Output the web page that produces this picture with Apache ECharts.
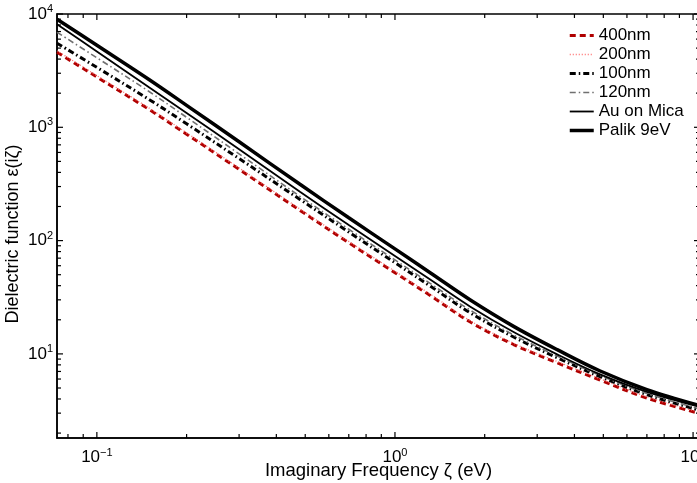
<!DOCTYPE html>
<html><head><meta charset="utf-8">
<script src="https://cdn.jsdelivr.net/npm/echarts@6/dist/echarts.min.js"></script>
<style>html,body{margin:0;padding:0;background:#fff}#c{width:697px;height:483px}</style>
</head><body><div id="c"></div>
<script>
// Imaginary frequency zeta (eV)
const freq = [0.0735, 0.1, 0.15, 0.2, 0.3, 0.48, 0.7, 1.0, 1.32, 1.79, 2.5, 3.5, 4.88, 7.0, 10.55];
// Dielectric function values
const eps400 = [4600, 2780, 1432, 869, 426, 185, 95.7, 52.1, 32.5, 19.1, 12.1, 8.34, 5.87, 4.07, 2.97];
const eps200 = [4730, 2860, 1472, 893, 438, 190, 98.4, 53.6, 33.4, 19.6, 12.4, 8.57, 6.03, 4.18, 3.05];
const eps100 = [5520, 3381, 1754, 1074, 530, 231, 119, 63.8, 39.3, 23.0, 14.1, 9.25, 6.30, 4.37, 3.18];
const eps120 = [6900, 4110, 2061, 1225, 583, 246, 126, 67.5, 41.5, 24.3, 14.7, 9.57, 6.44, 4.47, 3.26];
const epsMica = [8130, 4670, 2240, 1337, 640, 270, 137, 73.3, 44.8, 26.1, 15.6, 9.91, 6.59, 4.62, 3.41];
const epsPalik = [9000, 5300, 2630, 1563, 745, 314, 159, 84.5, 51.5, 29.9, 17.5, 10.9, 7.06, 4.84, 3.49];
const names = ['400nm', '200nm', '100nm', '120nm', 'Au on Mica', 'Palik 9eV'];
// axis ranges and tick structure
const xRange = [0.0735, 10.55];
const yRange = [1.81, 10000];
const xDecades = [-2, -1, 0, 1];
const yDecades = [0, 1, 2, 3, 4];
const tickSteps = [1, 2, 3, 4, 5, 6, 7, 8, 9];

const FONT = "'Liberation Sans', Arial, Helvetica, sans-serif";

function pairs(ys) { return freq.map((x, i) => [x, ys[i]]); }

const tickData = [];
xDecades.forEach(k => tickSteps.forEach(m => {
  const v = m * Math.pow(10, k);
  if (v >= xRange[0] && v <= xRange[1]) tickData.push([v, yRange[0], 0, m === 1 ? 1 : 0]);
}));
yDecades.forEach(k => tickSteps.forEach(m => {
  const v = m * Math.pow(10, k);
  if (v >= yRange[0] && v <= yRange[1]) tickData.push([xRange[0], v, 1, m === 1 ? 1 : 0]);
}));

function powLabel(v) {
  const lg = Math.log10(v);
  const k = Math.round(lg);
  if (Math.abs(lg - k) > 1e-6) return '';
  return '{b|10}{s|' + (k < 0 ? '\u2212' + (-k) : k) + '}';
}
const richLab = {
  b: { fontSize: 17, fontFamily: FONT, color: '#000' },
  s: { fontSize: 11, fontFamily: FONT, color: '#000', padding: [0, 0, 10, 0] }
};

const styles = [
  { color: '#b00000', width: 3, type: [6, 4] },
  { color: '#ff6f6f', width: 1.3, type: [1, 2] },
  { color: '#000000', width: 3, type: [6, 3, 1.5, 3] },
  { color: '#707070', width: 1.6, type: [6, 3, 1.5, 3] },
  { color: '#000000', width: 1.8, type: 'solid' },
  { color: '#000000', width: 3.5, type: 'solid' }
];
const dataSets = [eps400, eps200, eps100, eps120, epsMica, epsPalik];

const lineSeries = names.map((n, i) => ({
  name: n, type: 'line', data: pairs(dataSets[i]), symbol: 'none',
  smooth: 0.35,
  lineStyle: styles[i], itemStyle: { color: styles[i].color }, z: 2 + i, clip: true
}));

const chart = echarts.init(document.getElementById('c'), null, { renderer: 'canvas' });
chart.setOption({
  animation: false,
  backgroundColor: '#fff',
  grid: { left: 57, top: 14, right: -3, bottom: 45, outerBoundsMode: 'none', containLabel: false,
          show: true, borderColor: '#000', borderWidth: 1.5, backgroundColor: 'transparent' },
  legend: {
    data: names.map((n, i) => ({ name: n, lineStyle: { width: styles[i].width, type: styles[i].type, color: styles[i].color } })),
    orient: 'vertical', left: 568, top: 27, padding: 0,
    itemWidth: 24, itemHeight: 14, itemGap: 2,
    itemStyle: { opacity: 0 },
    textStyle: { fontSize: 17, fontFamily: FONT, color: '#000', lineHeight: 17 },
    backgroundColor: 'transparent'
  },
  xAxis: {
    type: 'log', logBase: 10, min: xRange[0], max: xRange[1],
    name: 'Imaginary Frequency \u03b6 (eV)', nameLocation: 'middle', nameGap: 23, nameMoveOverlap: false,
    nameTextStyle: { fontSize: 18.5, fontFamily: FONT, color: '#000' },
    axisLine: { show: true, lineStyle: { color: '#000', width: 1.5 } },
    axisTick: { show: false }, splitLine: { show: false }, minorTick: { show: false },
    axisLabel: { formatter: powLabel, rich: richLab, margin: 9, showMinLabel: true, showMaxLabel: true, hideOverlap: false }
  },
  yAxis: {
    type: 'log', logBase: 10, min: yRange[0], max: yRange[1],
    name: 'Dielectric function \u03b5(i\u03b6)', nameLocation: 'middle', nameGap: 35, nameMoveOverlap: false,
    nameTextStyle: { fontSize: 18, fontFamily: FONT, color: '#000', padding: [0, 16, 0, 0] },
    axisLine: { show: true, lineStyle: { color: '#000', width: 1.5 } },
    axisTick: { show: false }, splitLine: { show: false }, minorTick: { show: false },
    axisLabel: { formatter: powLabel, rich: richLab, margin: 4, hideOverlap: false }
  },
  series: lineSeries.concat([{
    type: 'custom', name: 'ticks', silent: true, z: 20, clip: false,
    data: tickData, encode: { x: 0, y: 1 },
    renderItem: function (params, api) {
      const cs = params.coordSys;
      const kind = api.value(2);
      const L = api.value(3) ? 6 : 4;
      const st = { stroke: '#000', lineWidth: 1.2 };
      if (kind === 0) {
        const px = api.coord([api.value(0), yRange[0]])[0];
        return { type: 'group', children: [
          { type: 'line', shape: { x1: px, y1: cs.y + cs.height, x2: px, y2: cs.y + cs.height - L }, style: st },
          { type: 'line', shape: { x1: px, y1: cs.y, x2: px, y2: cs.y + L }, style: st }
        ] };
      }
      const py = api.coord([xRange[0], api.value(1)])[1];
      return { type: 'group', children: [
        { type: 'line', shape: { x1: cs.x, y1: py, x2: cs.x + L, y2: py }, style: st },
        { type: 'line', shape: { x1: cs.x + cs.width, y1: py, x2: cs.x + cs.width - L, y2: py }, style: st }
      ] };
    }
  }])
});
</script></body></html>
